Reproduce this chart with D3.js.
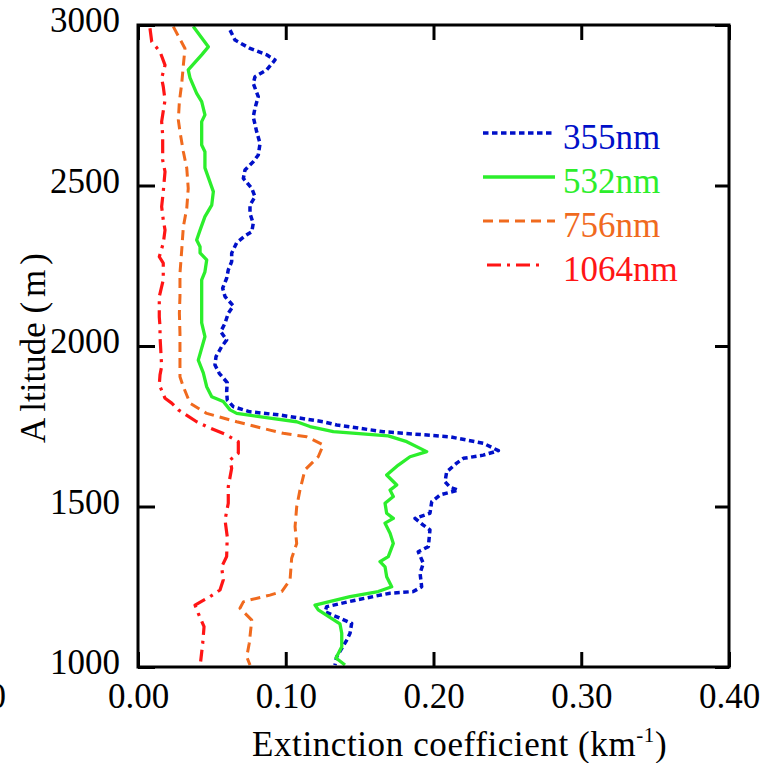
<!DOCTYPE html>
<html>
<head>
<meta charset="utf-8">
<script src="https://cdn.jsdelivr.net/npm/d3@7"></script>
<style>
  body { margin: 0; background: #fff; }
  svg { display: block; }
  text { font-family: "Liberation Serif", "Times New Roman", serif; }
</style>
</head>
<body>
<div id="chart"></div>
<script>
// axis ticks
const xTicks = [0, 0.1, 0.2, 0.3, 0.4];
const yTicks = [1000, 1500, 2000, 2500, 3000];
const wavelengths = ["355nm", "532nm", "756nm", "1064nm"];

// profiles: [altitude (m), extinction (km-1)]
const prof355 = [
  [2984,.0623],[2953,.0657],[2927,.0758],[2907,.0871],[2891,.0927],[2860,.0871],[2839,.0792],
  [2818,.0780],[2777,.0814],[2741,.0792],[2714,.0780],[2668,.0803],[2631,.0826],[2595,.0814],
  [2574,.0780],[2548,.0724],[2522,.0713],[2491,.0770],[2465,.0792],[2439,.0758],[2413,.0758],
  [2382,.0780],[2356,.0770],[2343,.0724],[2322,.0668],[2289,.0634],[2263,.0634],[2237,.0611],
  [2211,.0600],[2180,.0573],[2154,.0589],[2125,.0645],[2102,.0611],[2071,.0589],[2045,.0560],
  [2019,.0600],[1998,.0566],[1967,.0528],[1941,.0521],[1915,.0550],[1886,.0604],[1858,.0600],
  [1832,.0604],[1811,.0645],[1795,.0758],[1785,.0961],[1764,.1254],[1754,.1345],[1733,.1660],
  [1717,.2112],[1697,.2337],[1674,.2439],[1660,.2337],[1650,.2202],[1635,.2157],[1608,.2089],
  [1577,.2078],[1560,.2112],[1551,.2168],[1536,.2044],[1515,.1988],[1479,.1976],[1463,.1875],
  [1442,.1931],[1427,.1976],[1375,.1965],[1359,.1897],[1323,.1931],[1292,.1909],[1250,.1920],
  [1235,.1863],[1230,.1706],[1209,.1480],[1188,.1277],[1172,.1266],[1152,.1367],[1136,.1446],
  [1105,.1435],[1084,.1413],[1032,.1345],[1006,.1333]
];
const prof532 = [
  [2995,.0374],[2932,.0476],[2907,.0431],[2860,.0340],[2835,.0352],[2787,.0397],[2761,.0431],
  [2720,.0453],[2699,.0431],[2626,.0431],[2605,.0453],[2555,.0453],[2481,.0510],[2439,.0499],
  [2403,.0453],[2361,.0420],[2330,.0397],[2309,.0420],[2290,.0420],[2268,.0465],[2231,.0453],
  [2206,.0431],[2143,.0431],[2072,.0431],[2029,.0453],[1956,.0408],[1916,.0442],[1873,.0465],
  [1842,.0499],[1827,.0577],[1801,.0623],[1790,.0668],[1775,.0893],[1764,.1074],[1749,.1164],
  [1733,.1322],[1720,.1694],[1702,.1819],[1671,.1954],[1655,.1841],[1629,.1762],[1598,.1683],
  [1567,.1751],[1551,.1706],[1531,.1728],[1510,.1672],[1479,.1683],[1463,.1728],[1448,.1672],
  [1417,.1706],[1385,.1728],[1344,.1694],[1328,.1638],[1312,.1672],[1281,.1683],[1250,.1717],
  [1235,.1626],[1219,.1435],[1193,.1198],[1178,.1220],[1134,.1367],[1105,.1379],[1063,.1379],
  [1028,.1340],[1006,.1401]
];
const prof756 = [
  [2995,.0239],[2927,.0318],[2875,.0307],[2818,.0296],[2761,.0280],[2704,.0273],[2668,.0284],
  [2605,.0307],[2554,.0330],[2491,.0340],[2429,.0330],[2372,.0307],[2299,.0296],[2226,.0284],
  [2154,.0284],[2102,.0280],[2040,.0284],[1967,.0284],[1904,.0284],[1873,.0307],[1822,.0352],
  [1790,.0465],[1764,.0668],[1738,.0893],[1728,.0983],[1717,.1142],[1692,.1254],[1655,.1220],
  [1614,.1130],[1551,.1096],[1499,.1074],[1437,.1063],[1385,.1074],[1339,.1040],[1271,.1029],
  [1235,.0973],[1224,.0893],[1209,.0758],[1203,.0713],[1183,.0690],[1146,.0770],[1074,.0753],
  [1032,.0736],[1006,.0758]
];
const prof1064 = [
  [2990,.0081],[2948,.0093],[2917,.0149],[2875,.0183],[2834,.0160],[2808,.0171],[2766,.0183],
  [2720,.0167],[2699,.0160],[2657,.0167],[2579,.0167],[2543,.0183],[2481,.0171],[2434,.0160],
  [2393,.0171],[2361,.0183],[2320,.0171],[2278,.0144],[2258,.0171],[2206,.0171],[2154,.0144],
  [2091,.0144],[2060,.0149],[2029,.0149],[1988,.0154],[1936,.0160],[1910,.0149],[1879,.0144],
  [1837,.0183],[1822,.0228],[1801,.0273],[1764,.0397],[1749,.0465],[1723,.0600],[1702,.0679],
  [1666,.0679],[1645,.0623],[1619,.0634],[1562,.0611],[1510,.0611],[1458,.0589],[1406,.0604],
  [1344,.0600],[1312,.0566],[1271,.0577],[1240,.0555],[1219,.0487],[1193,.0386],[1167,.0408],
  [1126,.0447],[1074,.0438],[1017,.0424]
];

const margin = { top: 25, right: 36, bottom: 96, left: 138 },
    width = 765 - margin.left - margin.right,
    height = 763 - margin.top - margin.bottom;

const series = [
  { name: wavelengths[0], data: prof355, color: "#0010c8", dash: "5.5,3.5", w: 3.5 },
  { name: wavelengths[1], data: prof532, color: "#2cee2c", dash: null, w: 3.3 },
  { name: wavelengths[2], data: prof756, color: "#f06a1e", dash: "10,6", w: 3 },
  { name: wavelengths[3], data: prof1064, color: "#ff1515", dash: "14,6,3,6", w: 3.2 }
];

const svg = d3.select("#chart")
    .append("svg")
    .attr("width", 765)
    .attr("height", 763)
    .append("g")
    .attr("transform", "translate(" + margin.left + "," + margin.top + ")");

const x = d3.scaleLinear().domain([0, 0.4]).range([0, width]);
const y = d3.scaleLinear().domain([1000, 3000]).range([height, 0]);

svg.append("clipPath").attr("id", "plotClip")
    .append("rect").attr("width", width).attr("height", height);

// profiles
const line = d3.line()
    .x(d => x(d[1]))
    .y(d => y(d[0]));

svg.append("g").attr("clip-path", "url(#plotClip)")
    .selectAll("path")
    .data(series)
    .enter()
    .append("path")
    .attr("d", d => line(d.data))
    .attr("fill", "none")
    .attr("stroke", d => d.color)
    .attr("stroke-width", d => d.w)
    .attr("stroke-dasharray", d => d.dash)
    .attr("stroke-linejoin", "round");

// axes, ticks inside on all four sides
const fmtX = d3.format(".2f");
const xAxis = svg.append("g")
    .attr("transform", "translate(0," + height + ")")
    .call(d3.axisBottom(x).tickValues(xTicks).tickFormat(fmtX).tickSize(-15).tickSizeOuter(0).tickPadding(16));
const yAxis = svg.append("g")
    .call(d3.axisLeft(y).tickValues(yTicks).tickFormat(d3.format("d")).tickSize(-17).tickSizeOuter(0).tickPadding(18));
svg.append("g")
    .call(d3.axisTop(x).tickValues(xTicks).tickFormat("").tickSize(-15).tickSizeOuter(0));
svg.append("g")
    .attr("transform", "translate(" + width + ",0)")
    .call(d3.axisRight(y).tickValues(yTicks).tickFormat("").tickSize(-14).tickSizeOuter(0));

svg.selectAll(".domain").remove();
svg.selectAll(".tick line").attr("stroke", "#000").attr("stroke-width", 3);
svg.selectAll(".tick text")
    .attr("fill", "#000")
    .style("font-size", "35px")
    .style("font-family", "Liberation Serif");
yAxis.selectAll(".tick text").attr("dy", "0.19em");

// frame
svg.append("rect")
    .attr("width", width)
    .attr("height", height)
    .attr("fill", "none")
    .attr("stroke", "#000")
    .attr("stroke-width", 3);

// stray cut-off label at the far left
svg.append("text")
    .attr("x", 6 - margin.left)
    .attr("y", height + 41)
    .attr("text-anchor", "end")
    .style("font-size", "35px")
    .text("0");

// axis titles
const xTitle = svg.append("text")
    .attr("x", 252 - margin.left)
    .attr("y", 756 - margin.top)
    .attr("text-anchor", "start")
    .style("font-size", "35px")
    .style("letter-spacing", "0.6px")
    .attr("fill", "#000");
xTitle.append("tspan").text("Extinction coefficient (km");
xTitle.append("tspan").attr("dy", "-14").style("font-size", "21px").text("-1");
xTitle.append("tspan").attr("dy", "14").text(")");

const yTitle = svg.append("text")
    .attr("transform", "translate(" + (45 - margin.left) + "," + (348 - margin.top) + ") rotate(-90)")
    .attr("text-anchor", "middle")
    .style("font-size", "35px")
    .attr("fill", "#000");
yTitle.append("tspan").text("A");
yTitle.append("tspan").attr("dx", 6).text("ltitude (");
yTitle.append("tspan").attr("dx", 5).text("m");
yTitle.append("tspan").attr("dx", 5).text(")");

// legend
const legend = svg.append("g")
    .attr("transform", "translate(" + (483 - margin.left) + "," + (133 - margin.top) + ")");
const item = legend.selectAll("g")
    .data(series)
    .enter()
    .append("g")
    .attr("transform", (d, i) => "translate(0," + i * 44 + ")");
item.append("line")
    .attr("x1", (d, i) => i === 3 ? 4 : 0)
    .attr("x2", (d, i) => i === 3 ? 62 : 72)
    .attr("stroke", d => d.color)
    .attr("stroke-width", d => d.w)
    .attr("stroke-dasharray", d => d.dash);
item.append("text")
    .attr("x", 80)
    .attr("y", 15.5)
    .style("font-size", "35px")
    .attr("fill", d => d.color)
    .text(d => d.name);
</script>
</body>
</html>
